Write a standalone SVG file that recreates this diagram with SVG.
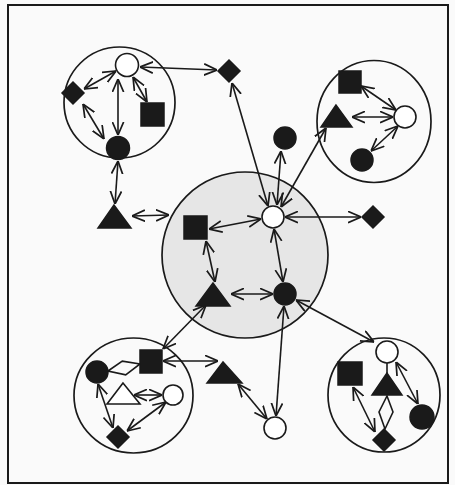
<svg xmlns="http://www.w3.org/2000/svg" width="455" height="485" viewBox="0 0 455 485">
<defs>
<marker id="a" viewBox="0 0 12 12" refX="12" refY="6" markerWidth="13" markerHeight="13" markerUnits="userSpaceOnUse" orient="auto-start-reverse">
<path d="M0,0.8 L12,6 L0,11.2" fill="none" stroke="#1a1a1a" stroke-width="1.6"/>
</marker>
<style>
.f{fill:#1a1a1a;stroke:#1a1a1a;stroke-width:1.5}
.o{fill:#fff;stroke:#1a1a1a;stroke-width:1.6}
.g{fill:none;stroke:#1a1a1a;stroke-width:1.7}
.c line{stroke:#1a1a1a;stroke-width:1.6;marker-start:url(#a);marker-end:url(#a)}
.c line.p{marker-start:none;marker-end:none}
.c polygon{fill:none;stroke:#1a1a1a;stroke-width:1.6}
</style>
</defs>
<rect x="0" y="0" width="455" height="485" fill="#fafafa"/>
<rect x="8" y="5" width="440" height="478" fill="none" stroke="#1a1a1a" stroke-width="2"/>
<g id="core">
<circle cx="245" cy="255" r="83" fill="#e6e6e6" stroke="#1a1a1a" stroke-width="1.7"/>
</g>
<g id="groups">
<ellipse class="g" cx="119.5" cy="102.5" rx="55.5" ry="55.5"/>
<ellipse class="g" cx="374" cy="121.5" rx="57" ry="61"/>
<ellipse class="g" cx="133.5" cy="395.5" rx="59.5" ry="57.5"/>
<ellipse class="g" cx="384" cy="395" rx="56" ry="57"/>
</g>
<g id="connectors" class="c">
<line x1="116" y1="71" x2="84" y2="89"/>
<line x1="133" y1="77" x2="147" y2="102"/>
<line x1="118" y1="79" x2="118" y2="135"/>
<line x1="83" y1="104" x2="104" y2="139"/>
<line x1="118" y1="161" x2="115" y2="204"/>
<line x1="140" y1="67" x2="217" y2="70"/>
<line x1="132" y1="216" x2="169" y2="215"/>
<line x1="261" y1="219" x2="209" y2="229"/>
<line x1="206" y1="241" x2="215" y2="282"/>
<line x1="231" y1="294" x2="273" y2="294"/>
<line x1="274" y1="229" x2="283" y2="282"/>
<line x1="285" y1="217" x2="361" y2="217"/>
<line x1="277" y1="205" x2="281" y2="151"/>
<line x1="232" y1="83" x2="268" y2="206"/>
<line x1="326" y1="128" x2="281" y2="207"/>
<line x1="361" y1="86" x2="396" y2="110"/>
<line x1="352" y1="117" x2="393" y2="117"/>
<line x1="398" y1="126" x2="371" y2="151"/>
<line x1="163" y1="349" x2="206" y2="305"/>
<line x1="163" y1="361" x2="218" y2="361"/>
<line x1="134" y1="395" x2="162" y2="395"/>
<line x1="98" y1="384" x2="113" y2="428"/>
<line x1="127" y1="431" x2="166" y2="402"/>
<line x1="296" y1="300" x2="374" y2="342"/>
<line x1="284" y1="306" x2="276" y2="416"/>
<line x1="238" y1="384" x2="267" y2="419"/>
<line x1="353" y1="387" x2="375" y2="432"/>
<line x1="396" y1="362" x2="418" y2="404"/>
<line class="p" x1="387" y1="363" x2="387" y2="374"/>
<polygon points="108,371 122.3,361.2 140,364 125.7,374.8"/>
<polygon points="387,396 393,412 385,429 379,412"/>
</g>
<g id="n-tl-open"><circle class="o" cx="127" cy="65" r="11.5"/></g>
<g id="n-tl-diamond"><polygon class="f" points="73,82 84,93 73,104 62,93"/></g>
<g id="n-tl-square"><rect class="f" x="141" y="103" width="23" height="23"/></g>
<g id="n-tl-dot"><circle class="f" cx="118" cy="148" r="11.5"/></g>
<g id="n-left-tri"><polygon class="f" points="114,205 98,228 131,228"/></g>
<g id="n-top-diamond"><polygon class="f" points="229,60 240,71 229,82 218,71"/></g>
<g id="n-top-dot"><circle class="f" cx="285" cy="138" r="11"/></g>
<g id="n-c-square"><rect class="f" x="184" y="216" width="23" height="23"/></g>
<g id="n-c-open"><circle class="o" cx="273" cy="217" r="11"/></g>
<g id="n-c-tri"><polygon class="f" points="213,283 196,306 230,306"/></g>
<g id="n-c-dot"><circle class="f" cx="285" cy="294" r="11"/></g>
<g id="n-right-diamond"><polygon class="f" points="373,206 384,217 373,228 362,217"/></g>
<g id="n-tr-square"><rect class="f" x="339" y="71" width="22" height="22"/></g>
<g id="n-tr-tri"><polygon class="f" points="336,105 321,127 352,127"/></g>
<g id="n-tr-open"><circle class="o" cx="405" cy="117" r="11"/></g>
<g id="n-tr-dot"><circle class="f" cx="362" cy="160" r="11"/></g>
<g id="n-bl-dot"><circle class="f" cx="97" cy="372" r="11"/></g>
<g id="n-bl-square"><rect class="f" x="140" y="350" width="22" height="23"/></g>
<g id="n-bl-tri"><polygon class="o" points="123,383 107,404 140,404"/></g>
<g id="n-bl-open"><circle class="o" cx="173" cy="395" r="10"/></g>
<g id="n-bl-diamond"><polygon class="f" points="118,426 129,437 118,448 107,437"/></g>
<g id="n-b-tri"><polygon class="f" points="223,362 207,383 242,383"/></g>
<g id="n-b-open"><circle class="o" cx="275" cy="428" r="11"/></g>
<g id="n-br-open"><circle class="o" cx="387" cy="352" r="11"/></g>
<g id="n-br-square"><rect class="f" x="338" y="362" width="24" height="23"/></g>
<g id="n-br-tri"><polygon class="f" points="387,373 372,395 402,395"/></g>
<g id="n-br-dot"><circle class="f" cx="422" cy="417" r="12"/></g>
<g id="n-br-diamond"><polygon class="f" points="384,429 395,440 384,451 373,440"/></g>
</svg>
